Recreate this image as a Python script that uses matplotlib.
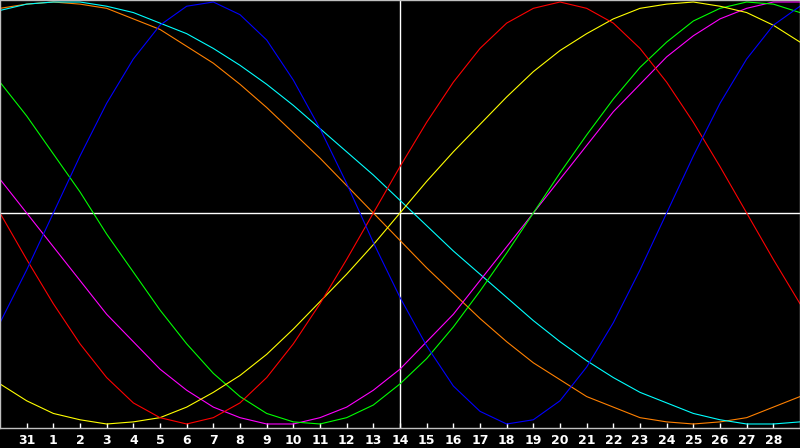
# Libraries
import matplotlib
matplotlib.use("Agg")
import matplotlib.pyplot as plt

# Data: day index 0..30 on the x axis, cycle values (-1..1)
days = list(range(31))
day_labels = ["31"] + [str(d) for d in range(1, 29)]   # ticks at day 1..29
tick_days = list(range(1, 30))

physical = [-0.52, -0.27, 0.00, 0.27, 0.52, 0.73, 0.89, 0.98, 1.00, 0.94,
            0.82, 0.63, 0.40, 0.14, -0.14, -0.40, -0.63, -0.82, -0.94, -1.00,
            -0.98, -0.89, -0.73, -0.52, -0.27, 0.00, 0.27, 0.52, 0.73, 0.89, 0.98]
emotional = [0.00, -0.22, -0.43, -0.62, -0.78, -0.90, -0.97, -1.00, -0.97, -0.90,
             -0.78, -0.62, -0.43, -0.22, 0.00, 0.22, 0.43, 0.62, 0.78, 0.90,
             0.97, 1.00, 0.97, 0.90, 0.78, 0.62, 0.43, 0.22, 0.00, -0.22, -0.43]
intellectual = [0.62, 0.46, 0.28, 0.10, -0.10, -0.28, -0.46, -0.62, -0.76, -0.87,
                -0.95, -0.99, -1.00, -0.97, -0.91, -0.81, -0.69, -0.54, -0.37, -0.19,
                0.00, 0.19, 0.37, 0.54, 0.69, 0.81, 0.91, 0.97, 1.00, 0.99, 0.95]
intuitive = [0.16, 0.00, -0.16, -0.32, -0.48, -0.61, -0.74, -0.84, -0.92, -0.97,
             -1.00, -1.00, -0.97, -0.92, -0.84, -0.74, -0.61, -0.48, -0.32, -0.16,
             0.00, 0.16, 0.32, 0.48, 0.61, 0.74, 0.84, 0.92, 0.97, 1.00, 1.00]
aesthetic = [-0.81, -0.89, -0.95, -0.98, -1.00, -0.99, -0.97, -0.92, -0.85, -0.77,
             -0.67, -0.55, -0.42, -0.29, -0.15, 0.00, 0.15, 0.29, 0.42, 0.55,
             0.67, 0.77, 0.85, 0.92, 0.97, 0.99, 1.00, 0.98, 0.95, 0.89, 0.81]
awareness = [0.97, 0.99, 1.00, 0.99, 0.97, 0.92, 0.87, 0.79, 0.71, 0.61,
             0.50, 0.38, 0.26, 0.13, 0.00, -0.13, -0.26, -0.38, -0.50, -0.61,
             -0.71, -0.79, -0.87, -0.92, -0.97, -0.99, -1.00, -0.99, -0.97, -0.92, -0.87]
spiritual = [0.96, 0.99, 1.00, 1.00, 0.98, 0.95, 0.90, 0.85, 0.78, 0.70,
             0.61, 0.51, 0.40, 0.29, 0.18, 0.06, -0.06, -0.18, -0.29, -0.40,
             -0.51, -0.61, -0.70, -0.78, -0.85, -0.90, -0.95, -0.98, -1.00, -1.00, -0.99]

today = 15

# Visualization
fig = plt.figure(figsize=(8, 4.48), dpi=100, facecolor="black")
ax = fig.add_axes([0, 20 / 448, 1, 428 / 448], facecolor="black")

ax.axhline(0, color="white", lw=1.0, zorder=1)
ax.axvline(today, color="white", lw=1.0, zorder=1)

series = [
    (awareness, "#ff8000"),
    (spiritual, "#00ffff"),
    (intuitive, "#ff00ff"),
    (intellectual, "#00ff00"),
    (aesthetic, "#ffff00"),
    (emotional, "#ff0000"),
    (physical, "#0000ff"),
]
for values, color in series:
    ax.plot(days, values, color=color, lw=0.8, zorder=2)

ax.set_xlim(0, 30)
ax.set_ylim(-1.019, 1.0095)
ax.set_yticks([])
ax.set_xticks(tick_days)
ax.set_xticklabels(day_labels, color="white", fontsize=9, fontweight="bold")
ax.tick_params(axis="x", direction="in", length=3.5, width=1, color="white", pad=4)
for side in ["left", "right", "top", "bottom"]:
    ax.spines[side].set_color("#c0c0c0")
    ax.spines[side].set_linewidth(1.0)

fig.savefig("out.png", dpi=100, facecolor="black")
